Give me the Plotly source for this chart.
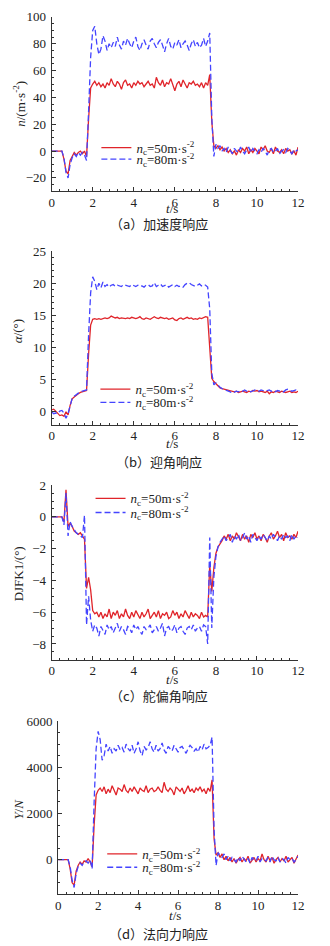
import plotly.graph_objects as go

# time grid (s)
t = [round(i * 0.1, 1) for i in range(121)]

# (a) acceleration response n (m/s^2)
n50 = [0, 0, 0, 0, 0, 0,
       -6, -15, -17, -7, -4, -1, -3, -1, 0, -2, 0, -4, 24, 47, 50,
       52, 49, 51, 48, 50, 47, 51, 49, 54, 50,
       48, 52, 50, 46, 51, 53, 49, 50, 47, 51,
       49, 52, 50, 51, 48, 50, 52, 49, 50, 47,
       55, 51, 49, 53, 48, 51, 50, 54, 49, 45,
       50, 52, 48, 53, 50, 47, 51, 50, 52, 49,
       50, 48, 51, 47, 51, 49,
       57, 22, 4,
       2, 4, 1, 3, 0, 2, -1, 1, -2, 0,
       -3, 1, -1, 2, 0, 3, -2, 1, -1, 2,
       0, -2, 3, 1, 4, 0, -1, 2, -2, 3,
       0, -1, 1, -2, 2, 0, 1, -2, 0, -3,
       3]
n80 = [0, 0, 0, 0, 0, 0,
       -5, -16, -20, -10, -5, -2, -4, -1, -3, -1, -3, -7, 30, 70, 90,
       93, 80, 72, 76, 86, 82, 75, 80, 77, 81,
       78, 85, 79, 76, 82, 79, 84, 80, 77, 82,
       85, 78, 75, 80, 83, 79, 76, 82, 84, 80,
       77, 81, 83, 79, 74, 80, 84, 78, 76, 81,
       79, 83, 77, 80, 82, 79, 75, 80, 83, 78,
       81, 77, 79, 84, 78, 82,
       88, 25, -4,
       5, 2, 4, 0, 2, -1, 3, 0, -2, 2,
       0, -1, 3, 0, -2, 1, 3, -1, 2, 0,
       -2, 1, -1, 2, 0, -3, 1, 2, -1, 0,
       2, -2, 0, 1, -1, 2, 0, -2, 1, 0,
       1]

# (b) angle of attack alpha (deg)
a50 = [0.3, 0.4, 0.1, -0.3, -0.6, -0.5, -0.7, 0.0, -0.5, 1.0, 2.0,
       2.3, 2.6, 2.8, 3.0, 3.1, 3.2, 3.3, 9.0, 13.5, 14.4,
       14.5, 14.4, 14.5, 14.4, 14.5, 14.6, 14.5, 14.6, 14.9, 14.8,
       14.6, 14.7, 14.5, 14.6, 14.5, 14.5, 14.6, 14.5, 14.7, 14.6,
       14.5, 14.6, 14.8, 14.5, 14.4, 14.6, 14.5, 14.4, 14.6, 14.8,
       14.6, 14.5, 14.7, 14.6, 14.5, 14.6, 14.4, 14.5, 14.6, 14.3,
       14.2, 14.5, 14.6, 14.4, 14.5, 14.7, 14.5, 14.6, 14.4, 14.5,
       14.4, 14.6, 14.5, 14.7, 14.8, 14.7,
       10.5, 5.2, 4.7,
       4.4, 4.0, 3.7, 3.6, 3.5, 3.4, 3.3, 3.2, 3.1, 3.1,
       3.2, 3.0, 3.1, 3.2, 3.1, 3.0, 3.2, 3.1, 3.3, 3.2,
       3.3, 3.1, 3.2, 3.1, 3.0, 3.2, 2.8, 3.1, 3.0, 3.2,
       3.1, 3.0, 3.2, 3.1, 3.0, 3.1, 3.2, 3.0, 3.1, 3.0,
       3.2]
a80 = [0.0, -0.3, -0.2, -0.3, 0.1, 0.2, -0.2, -1.0, -0.3, 1.0, 2.1,
       2.4, 2.7, 2.9, 3.1, 3.2, 3.2, 3.4, 12.0, 18.5, 21.0,
       20.3, 19.0, 20.0, 19.3, 20.2, 19.5, 19.8, 19.4, 19.7, 19.8,
       19.5, 19.7, 19.6, 19.5, 19.8, 19.7, 19.6, 19.5, 19.8, 19.7,
       19.5, 19.7, 19.5, 19.6, 19.4, 19.7, 19.8, 19.5, 19.6, 20.1,
       19.5, 19.7, 19.9, 19.5, 19.6, 19.8, 19.4, 19.6, 19.8, 19.5,
       19.7, 19.5, 19.6, 19.4, 19.8, 20.0, 20.1, 19.8, 19.6, 19.5,
       19.7, 19.9, 19.6, 19.8, 19.7, 19.4,
       16.0, 6.0, 4.2,
       4.5, 4.2, 3.8, 3.6, 3.5, 3.4, 3.3, 3.1, 2.9, 3.1,
       3.2, 3.1, 3.3, 3.2, 3.4, 3.2, 3.3, 3.1, 3.2, 3.4,
       3.3, 3.2, 3.4, 3.3, 3.2, 3.3, 3.4, 3.2, 3.3, 3.1,
       3.3, 3.2, 3.3, 3.1, 3.4, 3.5, 3.3, 3.2, 3.3, 3.4,
       3.3]

# (c) rudder deflection DJFK1 (deg)
d50 = [0, 0, 0, 0, 0, 0,
       -0.3, 1.7, -0.6, -0.4, -0.6, -0.9, -1.0, -1.1, -1.0, -1.2, -1.4, -4.5, -3.8, -4.6, -5.9,
       -6.1, -6.0, -6.3, -6.0, -6.4, -6.1, -6.3, -5.8, -6.4, -6.0,
       -6.2, -5.9, -6.4, -6.1, -6.3, -5.8, -6.2, -6.4, -6.0, -6.3,
       -5.9, -6.2, -6.4, -6.0, -6.3, -6.1, -5.8, -6.4, -6.2, -6.0,
       -6.3, -5.9, -6.4, -6.1, -6.2, -6.0, -6.4, -6.3, -5.9, -6.2,
       -6.0, -6.4, -6.1, -6.3, -5.9, -6.2, -6.4, -6.0, -6.3, -6.1,
       -6.2, -6.4, -6.0, -6.3, -6.2, -6.3,
       -3.0, -4.7, -3.2,
       -2.3, -1.9, -1.7, -1.5, -1.2, -1.4, -1.1, -1.5, -1.2, -1.4,
       -1.0, -1.3, -1.5, -1.1, -1.4, -1.2, -1.6, -1.1, -1.3, -1.0,
       -1.4, -1.2, -1.5, -1.1, -1.3, -1.6, -1.2, -1.0, -1.4, -1.2,
       -0.9, -1.3, -1.1, -1.5, -1.0, -1.3, -1.2, -1.4, -1.1, -1.3,
       -0.9]
d80 = [0, 0, 0, 0, 0, 0,
       -0.5, 1.5, -1.2, -0.3, -0.6, -0.8, -1.0, -1.1, -1.2, -1.3, 0.1, -6.8, -5.0, -6.5, -7.2,
       -6.8, -7.0, -7.5, -6.9, -7.2, -7.4, -6.8, -7.1, -6.9, -7.3,
       -7.0, -6.7, -7.2, -6.9, -7.1, -7.4, -6.9, -7.0, -7.3, -6.8,
       -7.1, -6.9, -7.2, -7.4, -6.9, -7.1, -7.0, -6.8, -7.3, -7.1,
       -6.9, -7.2, -7.0, -6.7, -7.5, -7.0, -6.9, -7.2, -7.1, -6.8,
       -7.3, -7.0, -6.9, -7.2, -7.4, -7.0, -6.9, -7.1, -6.8, -7.2,
       -7.0, -6.9, -7.2, -6.8, -6.9, -8.0,
       -1.3, -7.0, -3.8,
       -2.5, -1.9, -1.6, -1.4, -1.2, -1.5, -1.3, -1.1, -1.6, -1.2,
       -1.4, -1.1, -1.5, -1.3, -1.0, -1.4, -1.2, -1.6, -1.1, -1.3,
       -1.5, -1.2, -1.4, -1.1, -1.3, -1.5, -1.2, -1.4, -1.1, -1.3,
       -1.5, -1.2, -1.4, -1.1, -1.3, -1.2, -1.5, -1.1, -1.4, -1.2,
       -1.3]

# (d) normal force Y (N)
y50 = [0, 0, 0, 0, 0, 0,
       -400, -1000, -1100, -500, -250, -100, -200, -50, -100, 50, -100, -300, 1500, 2800, 3000,
       3100, 2950, 3150, 2850, 3050, 2900, 3200, 3000, 2800, 3100,
       3050, 2950, 3250, 3000, 2900, 3100, 2950, 3150, 3000, 2850,
       3100, 3000, 2950, 3200, 2900, 3050, 3100, 2950, 3000, 3150,
       3000, 2900, 3350, 3050, 2950, 3100, 3000, 2800, 3150, 3050,
       2950, 3100, 2850, 3000, 3200, 2950, 3050, 2900, 3100, 3000,
       3150, 2950, 3050, 2850, 3100, 2950,
       3450, 900, 200,
       300, 100, 250, 0, 150, -50, 100, -100, 50, -150,
       0, 100, -100, 50, -50, 150, -150, 0, 100, -100,
       50, -50, 250, 0, -100, 150, -50, 100, -150, 0,
       100, -100, 50, -50, 150, -100, 0, 100, -150, 50,
       200]
y80 = [0, 0, 0, 0, 0, 0,
       -300, -900, -1200, -600, -300, -150, -250, -100, -50, -150, 0, -400, 2500, 4800, 5550,
       5200, 4300, 4500, 5000, 4700, 4900, 4600, 4800, 4700, 4950,
       4750, 4850, 4650, 5000, 4800, 4700, 4950, 4600, 4800, 5100,
       4700, 4500, 4900, 4750, 4850, 5100, 4800, 4650, 4950, 4700,
       4800, 5050, 4750, 4600, 4900, 4800, 4700, 4950, 4800, 4650,
       4850, 4900, 4750, 4600, 4800, 4950, 4850, 4700, 4800, 4650,
       4900, 4750, 5000, 4800, 4850, 4950,
       5300, 1300, -250,
       300, 200, 100, 250, 0, 150, -50, 100, 0, -100,
       100, -50, 150, 0, -100, 50, -150, 100, 0, -50,
       150, -100, 50, 0, -50, 100, -100, 150, 0, -50,
       100, -100, 50, 0, -150, 100, 0, 50, -100, 0,
       150]

legend_names = ["<i>n</i><sub>c</sub>=50m·s<sup>-2</sup>",
                "<i>n</i><sub>c</sub>=80m·s<sup>-2</sup>"]
captions = ["（a）加速度响应", "（b）迎角响应", "（c）舵偏角响应", "（d）法向力响应"]
ytitles = ["<i>n</i>/(m·s<sup>-2</sup>)", "<i>α</i>/(°)", "DJFK1/(°)", "<i>Y</i>/<i>N</i>"]
yranges = [[-30, 100], [-2, 25], [-9, 2], [-1500, 6000]]
ydticks = [20, 5, 2, 2000]
yminor = [5, 1, 0.5, 500]
xticks = [0, 2, 4, 6, 8, 10, 12]

W, H = 330, 946
def px(x): return x / W
def py(y): return 1 - y / H

# panel geometry in pixels: (left, right, top, bottom)
panels = [(50, 303.3, 10, 185.7), (50, 303.3, 246, 420.7),
          (50, 303.3, 481.7, 657.7), (56.7, 303.3, 719.3, 894)]
# legend: x of line start, y of row 1, y of row 2
legend_pos = [(101, 141.7, 153.3), (100, 385, 398.3), (95, 495, 509.3), (107, 853.3, 866.7)]
ytitle_pos = [(17, 98), (15, 327), (16, 571), (15, 808)]
xtitle_y = [203, 440, 678, 915]
caption_y = [218, 458, 694, 933]

RED = "#e0242a"
BLUE = "#4444ff"
FONT = "Liberation Serif"
CJK = "Noto Sans CJK SC"

series = [(n50, n80), (a50, a80), (d50, d80), (y50, y80)]

fig = go.Figure()
layout = dict(width=W, height=H, margin=dict(l=0, r=0, t=0, b=0),
              paper_bgcolor="white", plot_bgcolor="white", showlegend=True)
annotations = []
for k in range(4):
    sfx = "" if k == 0 else str(k + 1)
    lg1 = "legend" if k == 0 else "legend" + str(2 * k + 1)
    lg2 = "legend" + str(2 * k + 2)
    s1, s2 = series[k]
    fig.add_trace(go.Scatter(x=t, y=s1, mode="lines", name=legend_names[0],
                             line=dict(color=RED, width=1.3),
                             xaxis="x" + sfx, yaxis="y" + sfx, legend=lg1))
    fig.add_trace(go.Scatter(x=t, y=s2, mode="lines", name=legend_names[1],
                             line=dict(color=BLUE, width=1.3, dash="6px,3px"),
                             xaxis="x" + sfx, yaxis="y" + sfx, legend=lg2))
    l, r, tp, bt = panels[k]
    common = dict(showline=True, linecolor="#333", linewidth=1, ticks="inside",
                  ticklen=4, tickcolor="#333", tickwidth=1, showgrid=False,
                  zeroline=False, tickfont=dict(family=FONT, size=13, color="#222"))
    layout["xaxis" + sfx] = dict(domain=[px(l), px(r)], range=[0, 12],
                                 tickvals=xticks, anchor="y" + sfx,
                                 ticklabelstandoff=-1,
                                 minor=dict(ticks="inside", ticklen=2, dtick=0.4,
                                            tickcolor="#333"),
                                 **common)
    layout["yaxis" + sfx] = dict(domain=[py(bt), py(tp)], range=yranges[k],
                                 dtick=ydticks[k], anchor="x" + sfx,
                                 ticklabelstandoff=2,
                                 minor=dict(ticks="inside", ticklen=2, dtick=yminor[k],
                                            tickcolor="#333"),
                                 **common)
    lx, ly1, ly2 = legend_pos[k]
    for lg, ly in ((lg1, ly1), (lg2, ly2)):
        layout[lg] = dict(x=px(lx - 5), y=py(ly), xanchor="left", yanchor="middle",
                          bgcolor="rgba(0,0,0,0)", borderwidth=0,
                          font=dict(family=FONT, size=13, color="#222"),
                          tracegroupgap=0, itemwidth=30)
    annotations.append(dict(text=ytitles[k], x=px(ytitle_pos[k][0]), y=py(ytitle_pos[k][1]),
                            xref="paper", yref="paper", showarrow=False, textangle=-90,
                            font=dict(family=FONT, size=13, color="#222"),
                            xanchor="center", yanchor="middle"))
    annotations.append(dict(text="<i>t</i>/s", x=px((l + r) / 2 - 3), y=py(xtitle_y[k]),
                            xref="paper", yref="paper", showarrow=False,
                            font=dict(family=FONT, size=13, color="#222"),
                            xanchor="center", yanchor="middle"))
    annotations.append(dict(text=captions[k], x=px(160), y=py(caption_y[k]),
                            xref="paper", yref="paper", showarrow=False,
                            font=dict(family=CJK, size=13, color="#222"),
                            xanchor="center", yanchor="middle"))
layout["annotations"] = annotations
fig.update_layout(**layout)
fig.write_html("out.html", config={"displayModeBar": False},
               post_script="document.body.style.margin='0';")
